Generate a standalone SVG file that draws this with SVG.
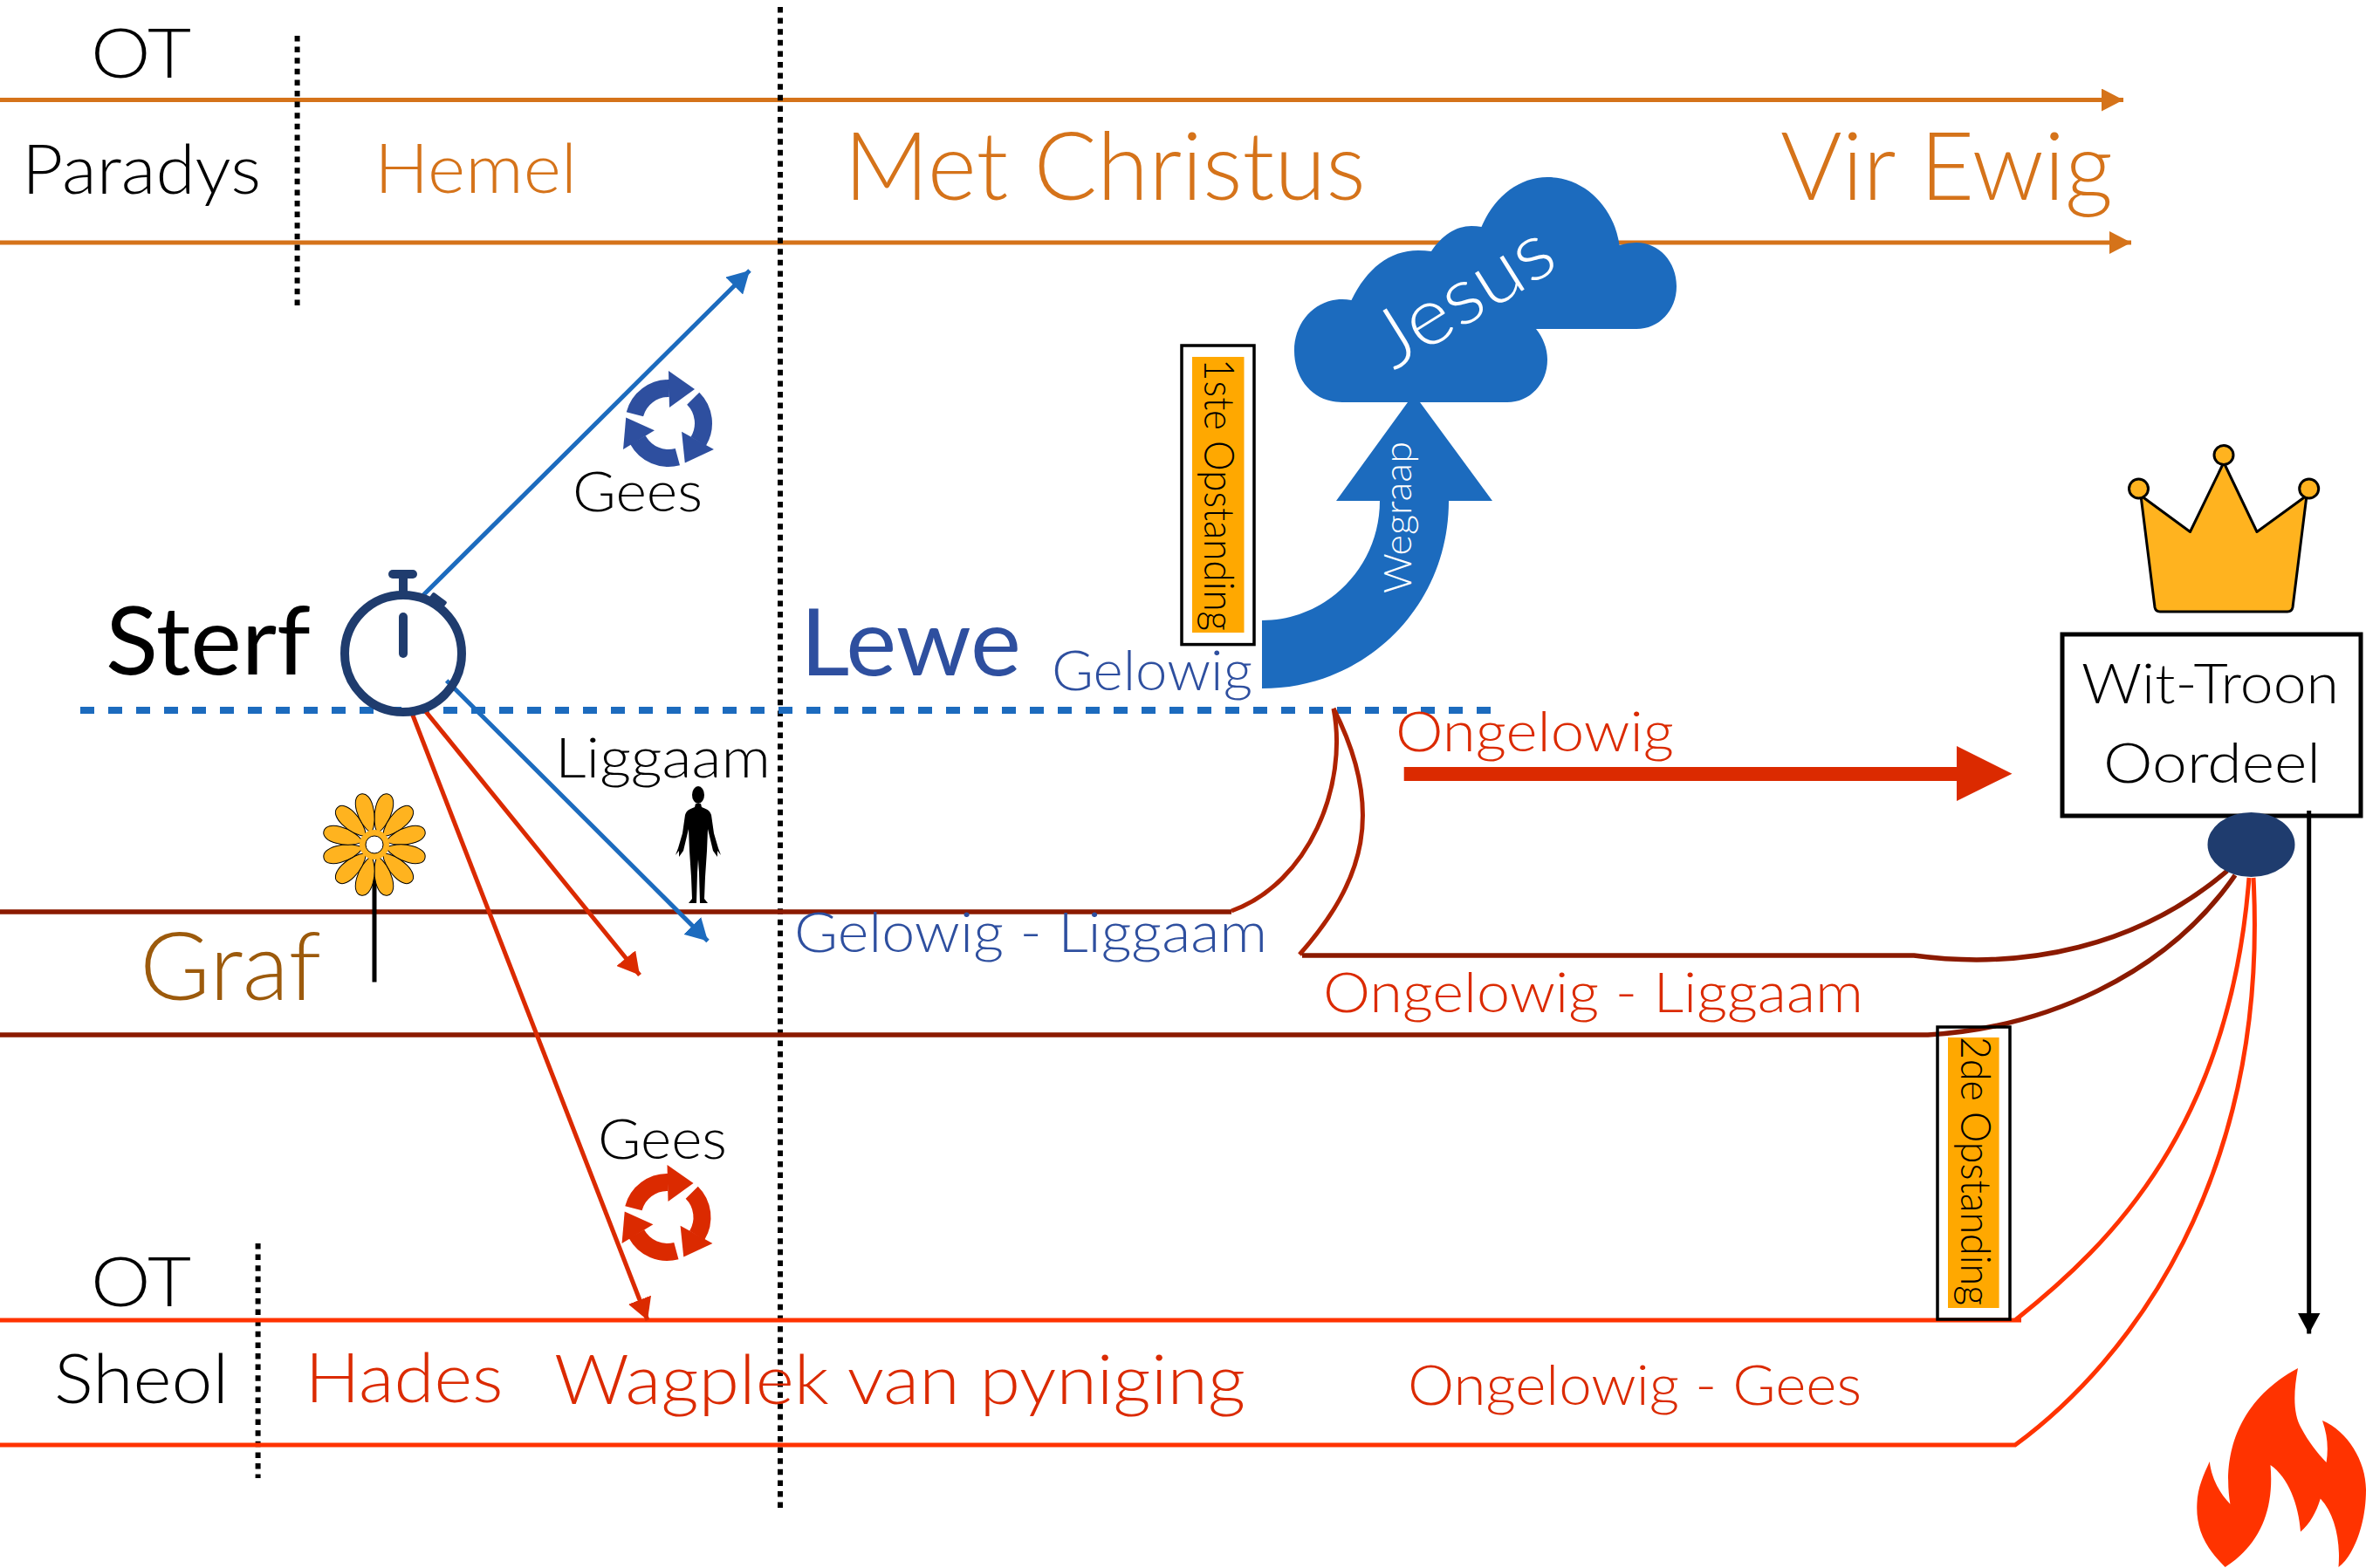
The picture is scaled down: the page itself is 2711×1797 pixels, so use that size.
<svg xmlns="http://www.w3.org/2000/svg" xmlns:xlink="http://www.w3.org/1999/xlink" width="2711" height="1797" viewBox="0 0 2711 1797">
<style>
text{font-family:"Lato","Open Sans","Liberation Sans",sans-serif;font-weight:300}
.k{fill:#000}.o{fill:#D5731A}.b{fill:#2E4F9F}.r{fill:#DB2A00}
.s{font-size:63px}.m{font-size:79px}.l{font-size:108px}
.ln{fill:none;stroke-width:5}
.or{stroke:#D5731A}.dr{stroke:#8B1A00;stroke-width:5.500}.br{stroke:#AE2200;stroke-width:5;fill:none}.hr{stroke:#FF3300}
.dot{stroke:#000;stroke-width:6;stroke-dasharray:6.5 6.1;fill:none}
.bl{stroke:#1C6BBE;stroke-width:5;fill:none}.rd{stroke:#DB2A00;stroke-width:5;fill:none}
.gold{fill:#FFB31F;stroke:#000;stroke-width:3}
.res{fill:#FFA800}.frame{fill:none;stroke:#000;stroke-width:3.5}
</style>
<defs>
<marker id="mo" markerUnits="userSpaceOnUse" markerWidth="26" markerHeight="26" refX="25" refY="13" orient="auto"><path d="M0 0L25 13L0 26Z" fill="#D5731A"/></marker>
<marker id="mb" markerUnits="userSpaceOnUse" markerWidth="26" markerHeight="28" refX="25" refY="14" orient="auto"><path d="M0 0L25 14L0 28Z" fill="#1C6BBE"/></marker>
<marker id="mr" markerUnits="userSpaceOnUse" markerWidth="26" markerHeight="28" refX="25" refY="14" orient="auto"><path d="M0 0L25 14L0 28Z" fill="#DB2A00"/></marker>
<marker id="mk" markerUnits="userSpaceOnUse" markerWidth="25" markerHeight="26" refX="24" refY="13" orient="auto"><path d="M0 0L24 13L0 26Z" fill="#000"/></marker>
<g id="seg"><path d="M-38.600 -10.300A40 40 0 0 1 1 -40" fill="none" stroke="currentColor" stroke-width="20"/><path d="M0 -60L30 -39L1 -18Z" fill="currentColor"/></g>
<g id="cycle"><use href="#seg"/><use href="#seg" transform="rotate(120)"/><use href="#seg" transform="rotate(240)"/></g>
<path id="petal" d="M0 -13C-13 -30 -13 -60 0 -60C13 -60 13 -30 0 -13Z" fill="#FFB31F" stroke="#000" stroke-width="1"/>
</defs>
<rect width="2711" height="1797" fill="#fff"/>

<g id="connectors">
<path class="ln or" d="M0 114.500H2433" marker-end="url(#mo)"/>
<path class="ln or" d="M0 278H2442" marker-end="url(#mo)"/>
<path class="dot" d="M340.600 41V351"/>
<path class="dot" d="M295.600 1425V1694"/>
<path class="dot" d="M894 8V1732"/>
<path d="M92 814H1709" fill="none" stroke="#1C6BBE" stroke-width="8" stroke-dasharray="16 16"/>
<path class="ln dr" d="M0 1045H1411"/>
<path class="br" d="M1411 1044C1500 1012 1545 900 1528 812"/>
<path class="br" d="M1489 1094C1563 1010 1588 930 1528 812"/>
<path class="ln dr" d="M1492 1095H2193C2320 1112 2450 1085 2552 998"/>
<path class="ln dr" d="M0 1186H2209C2340 1178 2480 1120 2561 1003"/>
<path class="ln hr" d="M0 1513H2316M2309 1513C2420 1425 2555 1290 2577 1006"/>
<path class="ln hr" d="M0 1656H2309C2440 1560 2600 1350 2582 1006"/>
<path class="bl" d="M482 685L859 310" marker-end="url(#mb)"/>
<path class="bl" d="M511.700 780L811 1078.500" marker-end="url(#mb)"/>
<path class="rd" d="M485 812L733 1117.500" marker-end="url(#mr)"/>
<path class="rd" d="M472.700 819L742 1513" marker-end="url(#mr)"/>
<path d="M2645.700 929V1528.500" stroke="#000" stroke-width="5" marker-end="url(#mk)"/>
<path d="M1608.700 879H2242V855L2305.500 886.700L2242 918V895H1608.700Z" fill="#DB2A00"/>
</g>

<g id="heaven-labels">
<text class="k m" x="104" y="89" textLength="115" lengthAdjust="spacingAndGlyphs">OT</text>
<text class="k m" x="25" y="222" textLength="274" lengthAdjust="spacingAndGlyphs">Paradys</text>
<text class="o m" x="429" y="221" textLength="232" lengthAdjust="spacingAndGlyphs">Hemel</text>
<text class="o l" x="967" y="229" textLength="598" lengthAdjust="spacingAndGlyphs">Met Christus</text>
<text class="o l" x="2040" y="229" textLength="381" lengthAdjust="spacingAndGlyphs">Vir Ewig</text>
</g>

<g id="gees-up">
<use href="#cycle" transform="translate(766 485)" style="color:#2E4F9F"/>
<text class="k s" x="656" y="586" textLength="149" lengthAdjust="spacingAndGlyphs">Gees</text>
</g>

<g id="sterf">
<text x="121" y="773" font-size="109" style="font-weight:400" textLength="235" lengthAdjust="spacingAndGlyphs" fill="#000">Sterf</text>
<g fill="#1F3C6E" stroke="none">
<rect x="445" y="653" width="33" height="10" rx="5"/>
<rect x="457" y="658" width="10" height="28"/>
<rect x="491" y="683" width="20" height="12" rx="2" transform="rotate(37 501 689)"/>
<rect x="457" y="702" width="10" height="52" rx="5"/>
</g>
<circle cx="462" cy="749" r="67" fill="none" stroke="#1F3C6E" stroke-width="10"/>
</g>

<g id="liggaam">
<text class="k s" x="636" y="891" textLength="247" lengthAdjust="spacingAndGlyphs">Liggaam</text>
<path fill="#000" transform="translate(800 0)" d="M-3 921L3 921L4 925C9 927 13 928 15 934L18 955L23 972L26 980L22 975L22 982L17 975L11 950L10 975L8 1005L7 1030L11 1035L2 1035L1 1000L0 985L-1 1000L-2 1035L-11 1035L-7 1030L-8 1005L-10 975L-11 950L-17 975L-22 982L-22 975L-26 980L-23 972L-18 955L-15 934C-13 928 -9 927 -4 925Z"/>
<ellipse cx="800" cy="911" rx="7" ry="10" fill="#000"/>
</g>

<g id="lewe">
<text class="b" x="917" y="774" font-size="107" style="font-weight:400" textLength="253" lengthAdjust="spacingAndGlyphs">Lewe</text>
<text class="b s" x="1205" y="791" textLength="230" lengthAdjust="spacingAndGlyphs">Gelowig</text>
<text class="b s" x="910" y="1091" textLength="542" lengthAdjust="spacingAndGlyphs">Gelowig - Liggaam</text>
</g>

<g id="eerste-opstanding">
<rect class="frame" x="1354" y="396" width="83" height="342.600"/>
<rect class="res" x="1366" y="409" width="59.500" height="316"/>
<text transform="translate(1380 411) rotate(90)" font-size="47" fill="#000" textLength="312" lengthAdjust="spacingAndGlyphs">1ste Opstanding</text>
</g>

<g id="wegraap">
<path fill="#1C6BBE" d="M1446 711C1520 711 1581 650 1581 574L1531 574L1613 461L1627 461L1710 574L1660 574C1660 695 1565 789 1446 789Z"/>
<text transform="translate(1617 680) rotate(-90)" font-size="43" fill="#fff" textLength="174" lengthAdjust="spacingAndGlyphs">Wegraap</text>
</g>

<g id="jesus">
<path fill="#1C6BBE" d="M1538 461C1505 461 1483 435 1483 402C1483 368 1508 343 1538 343Q1543 343 1548.500 344C1566 308 1592 287 1625 287Q1633 287 1640 288C1652 270 1668 259 1686 259Q1692 259 1697.500 260C1712 226 1740 203 1773 203C1815 203 1849 236 1855.600 281Q1865 278 1875 278C1901 278 1921 300 1921 328C1921 356 1901 377 1875 377L1760 377C1768 387 1773 399 1773 412C1773 440 1753 461 1727 461Z"/>
<text transform="translate(1597 425) rotate(-32)" font-size="92" fill="#fff" textLength="226" lengthAdjust="spacingAndGlyphs">Jesus</text>
</g>

<g id="ongelowig">
<text class="r s" x="1599" y="861" textLength="319" lengthAdjust="spacingAndGlyphs">Ongelowig</text>
<text class="r s" x="1516" y="1160" textLength="619" lengthAdjust="spacingAndGlyphs">Ongelowig - Liggaam</text>
<text class="r s" x="1613" y="1610" textLength="520" lengthAdjust="spacingAndGlyphs">Ongelowig - Gees</text>
</g>

<g id="crown">
<path class="gold" stroke-linejoin="round" d="M2453 568L2509.500 609.500L2548 530L2586 609.500L2643 568L2627 696Q2626 701 2621 701L2475 701Q2470 701 2469 696Z"/>
<circle class="gold" cx="2450.500" cy="560" r="11"/>
<circle class="gold" cx="2548" cy="521.500" r="11"/>
<circle class="gold" cx="2645.700" cy="560" r="11"/>
</g>

<g id="wit-troon">
<rect x="2363" y="727" width="342" height="208" fill="none" stroke="#000" stroke-width="5"/>
<text class="k s" x="2385" y="806" textLength="295" lengthAdjust="spacingAndGlyphs">Wit-Troon</text>
<text class="k s" x="2410" y="897" textLength="249" lengthAdjust="spacingAndGlyphs">Oordeel</text>
</g>
<ellipse id="joint" cx="2579.500" cy="968" rx="50" ry="37" fill="#1F3C6E"/>

<g id="graf">
<text x="160" y="1146" font-size="108" fill="#9C5A0C" textLength="208" lengthAdjust="spacingAndGlyphs">Graf</text>
</g>

<g id="flower">
<path d="M429 1005V1125.500" stroke="#000" stroke-width="5"/>
<g transform="translate(429 968)">
<use href="#petal" transform="rotate(15)"/><use href="#petal" transform="rotate(45)"/><use href="#petal" transform="rotate(75)"/><use href="#petal" transform="rotate(105)"/><use href="#petal" transform="rotate(135)"/><use href="#petal" transform="rotate(165)"/><use href="#petal" transform="rotate(195)"/><use href="#petal" transform="rotate(225)"/><use href="#petal" transform="rotate(255)"/><use href="#petal" transform="rotate(285)"/><use href="#petal" transform="rotate(315)"/><use href="#petal" transform="rotate(345)"/>
<circle r="17" fill="#FFB31F"/>
<circle r="10" fill="#fff" stroke="#000" stroke-width="1"/>
</g>
</g>

<g id="gees-down">
<text class="k s" x="685" y="1328" textLength="148" lengthAdjust="spacingAndGlyphs">Gees</text>
<use href="#cycle" transform="translate(764.500 1395)" style="color:#DB2A00"/>
</g>

<g id="sheol-labels">
<text class="k m" x="104" y="1497" textLength="115" lengthAdjust="spacingAndGlyphs">OT</text>
<text class="k m" x="62" y="1608" textLength="200" lengthAdjust="spacingAndGlyphs">Sheol</text>
<text class="r m" x="349.500" y="1607" textLength="227" lengthAdjust="spacingAndGlyphs">Hades</text>
<text class="r m" x="635" y="1609" textLength="792" lengthAdjust="spacingAndGlyphs">Wagplek van pyniging</text>
</g>

<g id="tweede-opstanding">
<rect class="frame" x="2220" y="1177" width="83" height="335"/>
<rect class="res" x="2232" y="1189" width="58.600" height="310"/>
<text transform="translate(2246.600 1188) rotate(90)" font-size="47" fill="#000" textLength="308" lengthAdjust="spacingAndGlyphs">2de Opstanding</text>
</g>

<path id="flame" fill="#FF3300" d="M2549.600 1796C2525 1772 2516 1750 2517.400 1723C2518 1705 2525 1690 2531.800 1675C2534 1695 2544 1712 2555.400 1723.700C2548 1680 2555 1610 2633 1568C2628 1595 2627 1620 2637 1637C2645 1652 2655 1665 2665.600 1676C2668 1660 2667 1645 2661 1628C2690 1640 2711 1675 2711 1707C2711 1750 2695 1785 2679.500 1796C2682 1765 2675 1735 2658.800 1717.500C2654 1733 2647 1746 2636 1755.500C2634 1725 2622 1693 2601.500 1679C2606 1730 2590 1770 2549.600 1796Z"/>
</svg>
